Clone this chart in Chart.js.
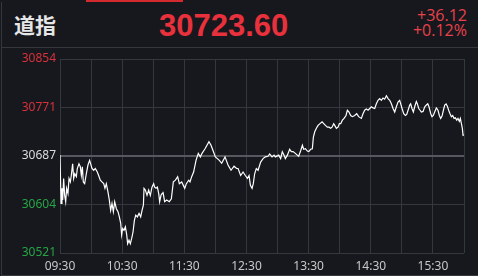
<!DOCTYPE html>
<html>
<head>
<meta charset="utf-8">
<script src="https://cdn.jsdelivr.net/npm/chart.js@4"></script>
<style>
  html, body { margin: 0; padding: 0; background: #16181d; }
  #marco { position: relative; width: 478px; height: 276px; overflow: hidden; background: #16181d; }
  .linea { position: absolute; background: #34373d; }
  .txt { position: absolute; white-space: nowrap; }
  #nombre { left: 14px; top: 14px; font: bold 21px/21px "Noto Sans CJK SC", sans-serif; color: #e6e6e6; }
  #precio { left: 159px; top: 10px; font: bold 31px/31px "Liberation Sans", Arial, sans-serif; color: #e8313c; }
  #cambio, #pct { right: 11px; font: 16px/16px "Open Sans", sans-serif; color: #e8414b; text-align: right; }
  #cambio { top: 7px; }
  #pct { top: 22px; }
  #grafica { position: absolute; left: 0; top: 47px; width: 478px; height: 229px; }
</style>
</head>
<body>
<div id="marco">
  <div class="linea" style="left:86px;top:0;width:97px;height:2px;background:#d42a2f"></div>
  <div class="linea" style="left:1px;top:2px;width:1px;height:274px"></div>
  <div class="linea" style="left:1px;top:47px;width:477px;height:1px"></div>
  <div class="linea" style="left:1px;top:275px;width:477px;height:1px"></div>
  <div class="txt" id="nombre">道指</div>
  <div class="txt" id="precio">30723.60</div>
  <div class="txt" id="cambio">+36.12</div>
  <div class="txt" id="pct">+0.12%</div>
  <div id="grafica"><canvas id="lienzo" width="478" height="229"></canvas></div>
</div>
<script>
// minutos desde la apertura (09:30) y valor del indice
const minutos = [0, 1.0, 1.9, 2.6, 3.5, 4.5, 5.5, 6.4, 7.7, 8.7, 10.0, 10.9, 12.2, 13.2, 14.2, 15.8, 16.7, 18.3, 19.6, 20.6,
  21.6, 22.5, 23.8, 25.4, 27.0, 28.6, 29.6, 30.9, 32.5, 34.1, 36.0, 37.3, 38.9, 40.5, 42.2, 43.4, 44.7, 46.3, 47.6, 48.9,
  50.2, 51.5, 52.8, 54.4, 56.0, 57.3, 58.6, 59.5, 60.5, 61.8, 63.1, 64.4, 65.3, 66.6, 67.9, 69.2, 70.5, 71.8, 73.1, 74.7,
  76.3, 77.9, 79.2, 80.5, 81.1, 82.4, 84.0, 85.6, 87.2, 88.8, 90.4, 91.4, 92.7, 94.0, 95.3, 96.2, 97.5, 98.5, 99.4, 101.0,
  103.0, 105.5, 107.5, 109.4, 111.4, 113.6, 115.2, 117.5, 120.4, 122.0, 124.2, 125.5, 127.1, 129.0, 131.3, 133.5, 135.5, 137.1, 140.0, 143.8,
  145.8, 147.7, 150.0, 151.9, 153.8, 156.1, 159.3, 162.2, 165.1, 168.0, 170.5, 171.9, 174.4, 176.7, 178.9, 180.9, 182.5, 183.8, 185.4, 186.6,
  187.9, 189.5, 191.2, 193.7, 196.0, 198.2, 200.8, 202.4, 204.7, 206.6, 207.9, 211.1, 213.0, 214.6, 216.3, 217.5, 219.5, 221.7, 223.3, 225.0,
  227.2, 229.1, 230.4, 232.4, 234.0, 235.2, 236.9, 238.8, 240.1, 242.0, 243.6, 244.6, 245.9, 247.5, 249.1, 251.0, 253.0, 254.6, 256.2, 258.1,
  259.7, 261.3, 262.6, 264.2, 265.2, 266.8, 268.4, 269.7, 271.0, 272.6, 274.2, 276.1, 277.4, 279.0, 280.6, 282.2, 284.5, 286.4, 288.3, 290.9,
  292.5, 294.1, 295.7, 297.4, 299.0, 300.6, 302.2, 303.8, 305.4, 307.0, 308.6, 310.2, 311.8, 313.4, 315.1, 316.7, 318.3, 319.9, 321.5, 323.1,
  324.7, 326.3, 327.9, 328.9, 330.2, 331.8, 333.4, 334.7, 336.0, 337.6, 338.5, 339.8, 341.1, 342.4, 344.0, 345.0, 346.3, 347.6, 348.8, 350.5,
  352.1, 353.7, 355.0, 356.2, 357.9, 359.1, 360.4, 361.7, 363.3, 364.9, 366.2, 367.5, 368.8, 370.1, 371.4, 372.7, 373.9, 375.2, 376.5, 377.8,
  379.1, 380.4, 381.7, 383.0, 384.2, 385.5, 386.5, 387.5, 388.4, 389.1, 390.0]

const valores = [30689, 30606, 30632, 30612, 30649, 30620, 30609, 30632, 30623, 30649, 30643, 30654, 30674, 30649, 30657, 30652, 30666, 30674, 30669, 30654,
  30669, 30643, 30640, 30657, 30672, 30680, 30674, 30666, 30663, 30666, 30660, 30654, 30646, 30643, 30640, 30632, 30640, 30626, 30612, 30594,
  30606, 30592, 30609, 30597, 30592, 30583, 30572, 30552, 30563, 30560, 30566, 30552, 30537, 30543, 30537, 30546, 30557, 30577, 30586, 30583,
  30589, 30583, 30594, 30603, 30632, 30629, 30620, 30629, 30620, 30634, 30640, 30634, 30632, 30634, 30623, 30609, 30620, 30623, 30626, 30609,
  30612, 30609, 30614, 30643, 30646, 30652, 30640, 30643, 30632, 30640, 30646, 30643, 30652, 30660, 30680, 30692, 30686, 30692, 30700, 30712,
  30706, 30697, 30686, 30683, 30680, 30675, 30686, 30672, 30663, 30670, 30666, 30666, 30654, 30660, 30654, 30649, 30654, 30637, 30632, 30640,
  30657, 30666, 30663, 30677, 30683, 30686, 30687, 30691, 30686, 30689, 30686, 30689, 30683, 30695, 30689, 30683, 30689, 30699, 30695, 30695,
  30692, 30689, 30687, 30697, 30706, 30699, 30700, 30696, 30695, 30699, 30700, 30720, 30729, 30735, 30740, 30743, 30746, 30743, 30740, 30737,
  30737, 30735, 30737, 30743, 30740, 30735, 30737, 30743, 30743, 30749, 30752, 30757, 30766, 30763, 30757, 30755, 30757, 30760, 30755, 30752,
  30760, 30766, 30768, 30766, 30769, 30772, 30770, 30769, 30777, 30783, 30786, 30783, 30787, 30785, 30791, 30786, 30783, 30777, 30769, 30763,
  30772, 30780, 30783, 30777, 30769, 30760, 30757, 30759, 30766, 30775, 30777, 30769, 30763, 30772, 30781, 30777, 30769, 30766, 30763, 30764,
  30772, 30775, 30777, 30772, 30760, 30755, 30757, 30763, 30770, 30766, 30757, 30752, 30756, 30766, 30775, 30777, 30773, 30766, 30760, 30755,
  30757, 30752, 30753, 30749, 30752, 30747, 30752, 30743, 30735, 30723, 30723.6]

const etiquetasX = ['09:30', '10:30', '11:30', '12:30', '13:30', '14:30', '15:30']
const etiquetasY = ['30521', '30604', '30687', '30771', '30854']
const coloresY = ['#27a546', '#27a546', '#dcdcdc', '#d8313b', '#d8313b']

const cierreAnterior = 30687.48
const rango = 166.5

const puntos = minutos.map((m, i) => {
   return { x: m, y: valores[i] }
})

var ctx = document.getElementById('lienzo').getContext('2d');

new Chart(ctx, {
   type: 'line',
   data: {
      datasets: [{
         data: puntos,
         borderColor: '#ffffff',
         borderWidth: 1.2,
         pointRadius: 0,
         tension: 0,
         fill: false
      }]
   },
   options: {
      responsive: false,
      animation: false,
      events: [],
      layout: { padding: { left: 0, right: 14, top: 12, bottom: 0 } },
      plugins: { legend: { display: false }, tooltip: { enabled: false } },
      scales: {
         x: {
            type: 'linear',
            min: 0,
            max: 390,
            afterFit: (escala) => { escala.height = 23 },
            border: { display: false },
            grid: { color: '#34373d', lineWidth: 1, drawTicks: false },
            ticks: {
               stepSize: 30,
               autoSkip: false,
               maxRotation: 0,
               padding: 6,
               color: '#c8c8c8',
               font: { family: 'Noto Sans', size: 12 },
               callback: (valor) => valor % 60 === 0 ? etiquetasX[valor / 60] : ''
            }
         },
         y: {
            min: cierreAnterior - rango,
            max: cierreAnterior + rango,
            afterFit: (escala) => { escala.width = 60 },
            afterBuildTicks: (escala) => {
               escala.ticks = etiquetasY.map((e, i) => ({ value: escala.min + i * (escala.max - escala.min) / 4 }))
            },
            border: { display: false },
            grid: {
               drawTicks: false,
               color: (c) => c.index === 2 ? '#55585e' : '#34373d',
               lineWidth: (c) => c.index === 2 ? 2 : 1
            },
            ticks: {
               padding: 4,
               font: { family: 'Noto Sans', size: 12 },
               color: (c) => coloresY[c.index],
               callback: (valor, i) => etiquetasY[i]
            }
         }
      }
   }
});
</script>
</body>
</html>
